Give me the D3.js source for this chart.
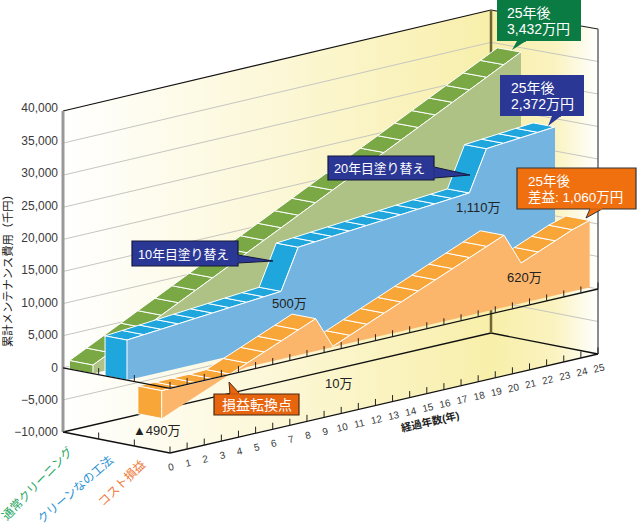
<!DOCTYPE html>
<html><head><meta charset="utf-8">
<style>html,body{margin:0;padding:0;background:#fff}svg{display:block}
text{font-family:"Liberation Sans","Noto Sans CJK JP",sans-serif}</style>
<script src="https://cdn.jsdelivr.net/npm/d3@7"></script></head><body>
<script>
// ---- data (thousand yen) ----
const years = [0,1,2,3,4,5,6,7,8,9,10,11,12,13,14,15,16,17,18,19,20,21,22,23,24,25];
const yTicks = [-10000,-5000,0,5000,10000,15000,20000,25000,30000,35000,40000];
const greenValues = [1320,2640,3960,5280,6600,7920,9240,10560,11880,13200,14520,15840,17160,18480,19800,21120,22440,23760,25080,26400,27720,29040,30360,31680,33000,34320];
const blueValues = [6220,6440,6660,6880,7100,7320,7540,7760,7980,8200,14420,14640,14860,15080,15300,15520,15740,15960,16180,16400,16620,22840,23060,23280,23500,23720];
const orangeTop = [-600,-600,-600,-600,-500,600,1700,2800,3900,5000,100,1200,2300,3400,4500,5600,6700,7800,8900,10000,11100,6200,7300,8400,9500,10300];
const orangeBottom = [-4900,-3800,-2700,-1600,-500,0,0,0,0,0,0,0,0,0,0,0,0,0,0,0,0,0,0,0,0,0];
const zeros = years.map(() => 0);

// ---- pseudo-3D projection ----
const W = 637, H = 525;
const tX = d3.scaleLinear().domain([0,25]).range([0,428]);
const tY = d3.scaleLinear().domain([0,25]).range([0,99]);
const vF = d3.scaleLinear().domain([-10000,40000]).range([0,1]);
const labelY = d3.scaleLinear().domain([-10000,40000]).range([432,108]);
const px = (t,d) => 170 + tX(t) - 107*d;
const py = (t,d,v) => 453 - tY(t) - 21*d - vF(v)*(321 + 2*t/25 + 2*(1-d));
const P = (t,d,v) => [px(t,d), py(t,d,v)];
const pathOf = pts => "M" + pts.map(p => p.join(",")).join("L") + "Z";

const svg = d3.select("body").append("svg").attr("width",W).attr("height",H);

// ---- wall gradient ----
const grad = svg.append("defs").append("linearGradient").attr("id","wall")
  .attr("gradientUnits","userSpaceOnUse").attr("x1",63).attr("x2",598).attr("y1",0).attr("y2",0);
[[63,"#ffffff"],[280,"#fcf7d6"],[492,"#f8efaa"],[555,"#faf3c0"],[598,"#ffffff"]].forEach(s =>
  grad.append("stop").attr("offset",(s[0]-63)/535).attr("stop-color",s[1]));
svg.append("path").attr("fill","url(#wall)").attr("d",pathOf([
  P(0,1,40000),P(25,1,40000),P(25,0,40000),P(25,0,-10000),P(0,0,-10000),P(0,1,-10000)]));

// ---- grid ----
const seg = (g,a,b,c,w) => g.append("line").attr("x1",a[0]).attr("y1",a[1]).attr("x2",b[0]).attr("y2",b[1])
  .attr("stroke",c).attr("stroke-width",w);
const grid = svg.append("g");
yTicks.filter(v => v>-10000 && v<40000).forEach(v => {
  seg(grid,P(0,1,v),P(25,1,v),"#c6c6c0",1);
  seg(grid,P(25,1,v),P(25,0,v),"#c6c6c0",1);
});
const frame = svg.append("g");
seg(frame,P(0,1,40000),P(25,1,40000),"#111",1.2);
seg(frame,P(25,1,40000),P(25,0,40000),"#222",1.2);
seg(frame,P(0,1,-10000),P(25,1,-10000),"#111",1.3);
seg(frame,P(25,1,-10000),P(25,0,-10000),"#111",1.3);
seg(frame,P(25,1,40000),P(25,1,-10000),"#6f6636",2.5);
seg(frame,P(25,0,40000),P(25,0,-10000),"#666",1.5);
seg(frame,P(0,1,40000),P(0,1,-10000),"#999",3);

// ---- series ribbons ----
function series(top,bottom,dBack,dFront,cTop,cFace){
  const g = svg.append("g").attr("stroke","#fff").attr("stroke-width",1).attr("stroke-linejoin","round");
  // year cells of the top ribbon (a falling year shows only its front face)
  g.selectAll("path.cell").data(years.slice(0,-1).filter(i => top[i+1] >= top[i])).join("path").attr("class","cell")
    .attr("fill",cTop)
    .attr("d",i => pathOf([P(i,dBack,top[i]),P(i+1,dBack,top[i+1]),P(i+1,dFront,top[i+1]),P(i,dFront,top[i])]));
  // front face
  const face = years.map(t => P(t,dFront,top[t])).concat(years.map(t => P(t,dFront,bottom[t])).reverse());
  g.append("path").attr("fill",cFace).attr("stroke","none").attr("d",pathOf(face));
  g.append("path").attr("fill","none").attr("d","M"+years.map(t => P(t,dFront,top[t]).join(",")).join("L"));
  // start cap
  g.append("path").attr("fill",cTop).attr("d",pathOf([P(0,dBack,top[0]),P(0,dFront,top[0]),P(0,dFront,bottom[0]),P(0,dBack,bottom[0])]));
}
series(greenValues,zeros,0.94,0.72,"#7aa845","#aec285");
series(blueValues,zeros,0.607,0.402,"#1fa6dd","#74b4e0");
series(orangeTop,orangeBottom,0.30,0.078,"#f9a638","#fbb66c");

// ---- front axis lines and ticks ----
const axes = svg.append("g");
[0,-10000].forEach(v => {
  seg(axes,P(0,1,v),P(0,0,v),"#111",1.3);
  seg(axes,P(0,0,v),P(25,0,v),"#111",1.3);
  years.forEach(t => { const p = P(t,0,v); seg(axes,p,[p[0],p[1]-6.5],"#222",1); });
  [1/3,2/3].forEach(d => { const p = P(0,d,v); seg(axes,p,[p[0],p[1]-6.5],"#222",1); });
});
// y labels
svg.append("g").selectAll("text").data(yTicks).join("text")
  .attr("x",58).attr("y",v => labelY(v)+4.3).attr("text-anchor","end")
  .attr("font-size",12).attr("fill","#3a3a3a").text(d3.format(","));
// year labels
svg.append("g").selectAll("text").data(years).join("text")
  .attr("transform",t => { const p = P(t,0,-10000); return `translate(${p[0]+1},${p[1]+14}) rotate(-13)`; })
  .attr("text-anchor","middle").attr("dy","0.35em").attr("font-size",10).attr("fill","#3a3a3a").text(String);

// ---- titles ----
const rot = (x,y,a,s,fs,c,extra) => { const t = svg.append("text")
  .attr("transform",`translate(${x},${y}) rotate(${a})`).attr("font-size",fs).attr("fill",c).text(s);
  if(extra) extra(t); return t; };
rot(12,347,-90,"累計メンテナンス費用（千円）",11.3,"#222");
rot(402,432,-13,"経過年数(年)",10.5,"#222",t => t.attr("font-weight","bold"));
rot(7,521,-46,"通常クリーニング",12,"#1fa75f");
rot(42,524,-41,"クリーンなの工法",12,"#2a92d2");
rot(103,507,-44,"コスト損益",12,"#f07a3a");

// ---- value notes ----
[["500万",272,308],["1,110万",456,212],["620万",507,282],["10万",325,388],["▲490万",133,435]]
  .forEach(n => svg.append("text").attr("x",n[1]).attr("y",n[2]).attr("font-size",13).attr("fill","#222").text(n[0]));

// ---- callouts ----
function callout(x0,y0,x1,y1,tail,fill,stroke,lines,fs){
  const pts = [[x0,y0],[x1,y0],[x1,y1],[x0,y1]];
  const g = svg.append("g");
  g.append("path").attr("d",pathOf(tail)).attr("fill",fill).attr("stroke",stroke||"none").attr("stroke-width",1);
  g.append("path").attr("d",pathOf(pts)).attr("fill",fill).attr("stroke",stroke||"none").attr("stroke-width",1.2);
  // hide tail seam
  g.append("line").attr("x1",tail[0][0]).attr("y1",tail[0][1]).attr("x2",tail[2][0]).attr("y2",tail[2][1]).attr("stroke",fill).attr("stroke-width",1.6);
  lines.forEach(l => g.append("text").attr("x",l[1]).attr("y",l[2]).attr("font-size",fs).attr("fill","#fff").text(l[0]));
}
callout(497,0,581,41,[[517,41],[512,50],[526,41]],"#0b7b44",null,[["25年後",507,18],["3,432万円",507,34]],14);
callout(500,75,584,116,[[552,116],[548,126],[561,116]],"#2b3794",null,[["25年後",511,93],["2,372万円",511,109]],14);
callout(517,168,636,209,[[590,209],[586,218],[602,209]],"#f0700f","#333",[["25年後",528,185.5],["差益: 1,060万円",528,202]],13.5);
callout(328,156,434,180,[[434,167],[470,175],[434,178]],"#2b3794","#15183a",[["20年目塗り替え",334,173]],12.8);
callout(132,241,238,266,[[238,255],[273,261],[238,263]],"#2b3794","#15183a",[["10年目塗り替え",138,259]],12.8);
callout(214,394,299,415,[[230,394],[229,382],[240,394]],"#e8650f","#4a2a10",[["損益転換点",222,410]],14);
</script></body></html>
